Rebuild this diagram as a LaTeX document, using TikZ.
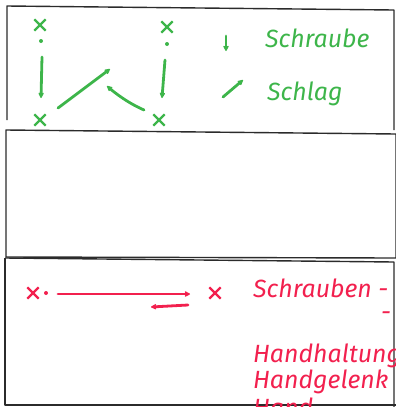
\documentclass[tikz,border=0pt]{standalone}
\usepackage{fontspec}
\setmainfont{Fira Sans}
\usetikzlibrary{arrows.meta,shapes.misc}
\definecolor{cgreen}{HTML}{3DB54A}
\definecolor{cred}  {HTML}{F2204E}
\definecolor{cframe}{HTML}{2B2B2B}

\begin{document}
\begin{tikzpicture}[x=1bp, y=-1bp,
  frame/.style  = {draw=cframe, line width=1.4bp, line join=round},
  xmark/.style  = {cross out, draw, minimum size=9bp, inner sep=0pt, line width=2.3bp},
  dotnode/.style= {circle, fill, inner sep=0pt, minimum size=4bp},
  stroke/.style = {line width=2.8bp, line cap=round, -{Stealth[length=7bp,width=7bp,round]}},
  lbl/.style    = {anchor=base west, inner sep=0pt, font=\fontsize{25}{28}\selectfont\itshape}
]
\useasboundingbox (0,0) rectangle (396,407);
\clip (0,0) rectangle (396,407);

%% ── Frames ────────────────────────────────────────────────────────────────
% top panel (open at the bottom left)
\draw[frame] (7,120) -- (7,6) -- (394,10) -- (394,130);
% middle panel (empty)
\draw[frame] (6,130) -- (396,134) -- (396,258) -- (6,257) -- cycle;
% bottom panel
\draw[frame] (5,258) -- (394,262) -- (394,407);
\draw[frame] (5,258) -- (5,405) -- (396,405);

%% ── Top panel: green marks ────────────────────────────────────────────────
\begin{scope}[color=cgreen]
\node[xmark]   (xtl) at (40,25)  {};
\node[dotnode] (dl)  at (41,41)  {};
\node[xmark]   (xbl) at (40,120) {};
\node[xmark]   (xtr) at (167,27) {};
\node[dotnode] (dr)  at (167,44) {};
\node[xmark]   (xbr) at (159,120){};

\coordinate (l0)   at (42,57);
\coordinate (l1)   at (41,98);
\coordinate (r0)   at (165,60);
\coordinate (r1)   at (162,98);
\coordinate (up0)  at (58,108);
\coordinate (up1)  at (110,69);
\coordinate (bk0)  at (144,110);
\coordinate (bk1)  at (107,86);

% left pair: downward
\draw[stroke] (l0) -- (l1);
% right pair: downward
\draw[stroke] (r0) -- (r1);
% rising stroke
\draw[stroke] (up0) -- (up1);
% curved return
\draw[stroke] (bk0) .. controls (128,103) and (115,93) .. (bk1);

% legend
\coordinate (lg0) at (226,36);
\coordinate (lg1) at (226,51);
\coordinate (lh0) at (223,97);
\coordinate (lh1) at (243,80);
\draw[stroke] (lg0) -- (lg1);
\draw[stroke] (lh0) -- (lh1);
\node[lbl] (schraube) at (265,47)  {Schraube};
\node[lbl] (schlag)   at (267,100) {Schlag};
\end{scope}

%% ── Bottom panel: red marks ───────────────────────────────────────────────
\begin{scope}[color=cred]
\node[xmark]   (xa) at (33,293)  {};
\node[dotnode] (da) at (46,293)  {};
\node[xmark]   (xb) at (215,293) {};

\coordinate (f0) at (58,294);
\coordinate (f1) at (190,294);
\coordinate (g0) at (188,305);
\coordinate (g1) at (151,307);
% forward stroke
\draw[stroke] (f0) -- (f1);
% back stroke
\draw[stroke] (g0) -- (g1);

\node[lbl] (schrauben) at (253,297) {Schrauben -};
\node[lbl] (dash)      at (381,320) {-};
\node[lbl] (haltung)   at (253,362) {Handhaltung};
\node[lbl] (gelenk)    at (253,388) {Handgelenk};
\node[lbl] (hand)      at (253,416) {Hand};
\end{scope}

\end{tikzpicture}
\end{document}
